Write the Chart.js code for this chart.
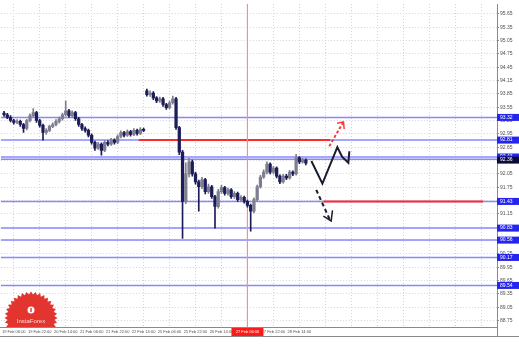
<!DOCTYPE html>
<html>
<head>
<meta charset="utf-8">
<script src="https://cdn.jsdelivr.net/npm/chart.js@4.4.1/dist/chart.umd.min.js"></script>
<style>
  html, body { margin: 0; padding: 0; background: #fff; }
  #wrap { width: 519px; height: 346px; }
</style>
</head>
<body>
<div id="wrap"><canvas id="fxChart" width="519" height="346"></canvas></div>
<script>
// 2-hour candles, index 0 = 19 Feb 06:00
const firstIndex = -3;

const opens = [93.42,93.38,93.32,93.25,93.21,93.23,93.16,93.07,93.25,93.36,93.43,93.25,93.14,92.98,
  93.03,93.12,93.16,93.23,93.29,93.38,93.47,93.36,93.43,93.29,
  93.16,93.07,93.03,92.92,92.76,92.63,92.72,92.58,92.76,92.72,
  92.81,92.76,92.89,92.98,92.92,93.00,92.94,93.03,92.96,93.05,
  93.92,93.83,93.87,93.76,93.69,93.74,93.61,93.54,93.65,93.74,
  93.09,92.54,91.43,92.05,92.32,92.05,91.87,91.76,91.92,91.65,
  91.76,91.54,91.32,91.65,91.74,91.61,91.69,91.54,91.61,91.47,
  91.52,91.43,91.34,91.21,91.47,91.76,91.98,92.09,92.27,92.09,
  92.18,92.00,91.87,92.00,91.96,92.09,92.05,92.41,92.32,92.36];
const highs = [93.46,93.41,93.36,93.28,93.27,93.26,93.19,93.28,93.40,93.52,93.46,93.28,93.17,93.07,
  93.15,93.20,93.27,93.33,93.42,93.69,93.50,93.47,93.46,93.32,
  93.19,93.11,93.06,92.95,92.79,92.76,92.75,92.80,92.80,92.85,
  92.84,92.93,93.02,93.01,93.04,93.03,93.07,93.06,93.09,93.08,
  93.96,93.92,93.90,93.79,93.78,93.77,93.64,93.69,93.80,93.77,
  93.12,92.58,92.30,92.40,92.36,92.09,91.91,91.97,91.95,91.82,
  91.79,91.57,91.70,91.79,91.77,91.73,91.72,91.65,91.64,91.56,
  91.55,91.46,91.37,91.51,91.80,92.02,92.14,92.32,92.30,92.22,
  92.21,92.03,92.04,92.04,92.13,92.12,92.49,92.44,92.40,92.39];
const lows = [93.34,93.29,93.22,93.17,93.18,93.12,92.98,93.04,93.22,93.33,93.21,93.10,92.81,92.94,
  93.00,93.09,93.13,93.19,93.26,93.35,93.32,93.33,93.25,93.12,
  93.03,92.99,92.88,92.72,92.58,92.60,92.47,92.55,92.68,92.69,
  92.72,92.73,92.86,92.88,92.89,92.90,92.91,92.92,92.93,93.00,
  93.80,93.79,93.72,93.65,93.66,93.57,93.50,93.51,93.62,93.05,
  92.48,90.60,91.38,91.98,92.00,91.82,91.21,91.72,91.60,91.61,
  91.50,90.83,91.28,91.61,91.57,91.57,91.50,91.50,91.43,91.43,
  91.39,91.30,90.76,91.17,91.44,91.73,91.95,92.05,92.05,92.05,
  91.96,91.83,91.84,91.92,91.93,92.01,92.02,92.28,92.29,92.25];
const closes = [93.38,93.32,93.25,93.21,93.23,93.16,93.07,93.25,93.36,93.43,93.25,93.14,92.98,93.03,
  93.12,93.16,93.23,93.29,93.38,93.47,93.36,93.43,93.29,93.16,
  93.07,93.03,92.92,92.76,92.63,92.72,92.58,92.76,92.72,92.81,
  92.76,92.89,92.98,92.92,93.00,92.94,93.03,92.96,93.05,93.03,
  93.83,93.87,93.76,93.69,93.74,93.61,93.54,93.65,93.74,93.09,
  92.54,91.43,92.05,92.32,92.05,91.87,91.76,91.92,91.65,91.76,
  91.54,91.32,91.65,91.74,91.61,91.69,91.54,91.61,91.47,91.52,
  91.43,91.34,91.21,91.47,91.76,91.98,92.09,92.27,92.09,92.18,
  92.00,91.87,92.00,91.96,92.09,92.05,92.41,92.32,92.36,92.29];

const timeTicks = [0,8,16,24,32,40,48,56,64,72,80,88,96,104,112,120,128,136,144];
const timeLabels = ['19 Feb 06:00','19 Feb 22:00','20 Feb 14:00','21 Feb 06:00','21 Feb 22:00',
  '22 Feb 14:00','25 Feb 06:00','25 Feb 22:00','26 Feb 14:00','27 Feb 06:00','27 Feb 22:00','28 Feb 14:00'];
const priceTicks = [95.65,95.35,95.05,94.75,94.45,94.15,93.85,93.55,93.25,92.95,92.65,92.35,
  92.05,91.75,91.45,91.15,90.85,90.55,90.25,89.95,89.65,89.35,89.05,88.75];

const blueLevels = [93.32,92.81,92.43,92.38,91.43,90.83,90.56,90.17,89.54];
const redLevels = [92.81,91.43];
const redFrom = [38.5,95.4];
const redTo = [97.5,144.6];
const markerIndex = 72;
const markerLabel = '27 Feb 06:00';
const bidPrice = 92.36;

const zigzag = [{x:91.7,y:92.34},{x:95.1,y:91.83},{x:99.7,y:92.65},{x:101.2,y:92.43},{x:103.1,y:92.30},{x:103.4,y:92.56}];
const upArrow = [{x:97.2,y:92.67},{x:101.5,y:93.21}];
const upHead = [{x:99.6,y:93.19},{x:101.6,y:93.22},{x:101.8,y:93.06}];
const downArrow = [{x:93.2,y:91.69},{x:97.5,y:91.00}];
const downHead = [{x:95.4,y:91.10},{x:97.8,y:90.99},{x:98.2,y:91.23}];

const yMin = 88.605, yMax = 95.872, xMin = -4, xMax = 148.9;

const candleX = opens.map((o, k) => firstIndex + k);
const candleColors = opens.map((o, k) => closes[k] >= o ? '#7e7e90' : '#1c1c58');

const datasets = [];
blueLevels.forEach(v => {
  datasets.push({type:'line', data:[{x:xMin,y:v},{x:xMax,y:v}], borderColor:'#8888ff', borderWidth:1.5, pointRadius:0, order:6});
});
redLevels.forEach((v, k) => {
  datasets.push({type:'line', data:[{x:redFrom[k],y:v},{x:redTo[k],y:v}], borderColor:'#ff2b2b', borderWidth:2, pointRadius:0, order:5});
});
datasets.push({type:'line', data:[{x:markerIndex,y:yMax},{x:markerIndex,y:yMin}], borderColor:'#ff8c8c', borderWidth:1, pointRadius:0, order:4});
datasets.push({type:'bar', data:candleX.map((xv,k)=>({x:xv, y:[lows[k], highs[k]]})), backgroundColor:candleColors, barThickness:1, grouped:false, order:3});
datasets.push({type:'bar', data:candleX.map((xv,k)=>({x:xv, y:[opens[k], closes[k]]})), backgroundColor:candleColors, barThickness:2.6, grouped:false, minBarLength:1, order:2});
datasets.push({type:'line', data:zigzag, borderColor:'#1b1b2e', borderWidth:2, pointRadius:0, order:1});
datasets.push({type:'line', data:upArrow, borderColor:'#ff3a3a', borderWidth:2, borderDash:[3,2], pointRadius:0, order:1});
datasets.push({type:'line', data:upHead, borderColor:'#ff3a3a', borderWidth:1.5, pointRadius:0, order:1});
datasets.push({type:'line', data:downArrow, borderColor:'#1b1b2e', borderWidth:2, borderDash:[4,3], pointRadius:0, order:1});
datasets.push({type:'line', data:downHead, borderColor:'#1b1b2e', borderWidth:1.5, pointRadius:0, order:1});

const overlay = {
  id: 'overlay',
  afterDraw(chart) {
    const {ctx, chartArea, scales} = chart;
    const ys = scales.y, xs = scales.x;
    ctx.save();

    // InstaForex seal, clipped to plot area
    ctx.save();
    ctx.beginPath();
    ctx.rect(chartArea.left, chartArea.top, chartArea.right - chartArea.left, chartArea.bottom - chartArea.top);
    ctx.clip();
    const cx = 31, cy = 318;
    ctx.beginPath();
    for (let k = 0; k < 72; k++) {
      const r = k % 2 ? 23.5 : 26.5;
      const a = k * Math.PI / 36;
      ctx.lineTo(cx + r * Math.cos(a), cy + r * Math.sin(a));
    }
    ctx.closePath();
    ctx.fillStyle = '#e2352f';
    ctx.fill();
    ctx.fillStyle = '#ffffff';
    ctx.beginPath();
    ctx.arc(cx, cy - 8, 3.5, 0, Math.PI * 2);
    ctx.fill();
    ctx.fillStyle = '#e2352f';
    ctx.fillRect(cx - 0.7, cy - 10, 1.4, 4);
    ctx.fillStyle = '#ffd8d8';
    ctx.font = '6px "Liberation Sans"';
    ctx.textAlign = 'center';
    ctx.textBaseline = 'middle';
    ctx.fillText('InstaForex', cx, cy + 3);
    ctx.restore();

    // price boxes on the right scale
    ctx.font = '5px "Liberation Sans"';
    ctx.textBaseline = 'middle';
    ctx.textAlign = 'left';
    blueLevels.forEach(v => {
      const py = ys.getPixelForValue(v);
      ctx.fillStyle = '#2424ee';
      ctx.fillRect(chartArea.right, py - 3.5, 22, 7);
      ctx.fillStyle = '#ffffff';
      ctx.fillText(v.toFixed(2), chartArea.right + 3, py);
    });
    const bp = ys.getPixelForValue(bidPrice);
    ctx.fillStyle = '#0b0b3a';
    ctx.fillRect(chartArea.right, bp - 3.5, 22, 7);
    ctx.fillStyle = '#ffffff';
    ctx.fillText(bidPrice.toFixed(2), chartArea.right + 3, bp);

    // time marker box
    const mx = xs.getPixelForValue(markerIndex);
    ctx.fillStyle = '#ff1a1a';
    ctx.fillRect(mx - 16, chartArea.bottom + 1, 32, 8);
    ctx.fillStyle = '#ffffff';
    ctx.font = '4px "Liberation Sans"';
    ctx.textAlign = 'center';
    ctx.fillText(markerLabel, mx, chartArea.bottom + 5);

    // frame below time scale
    ctx.strokeStyle = '#8a8a8a';
    ctx.lineWidth = 1;
    ctx.beginPath();
    ctx.moveTo(0, chartArea.bottom + 9.5);
    ctx.lineTo(519, chartArea.bottom + 9.5);
    ctx.moveTo(chartArea.right + 0.5, chartArea.bottom);
    ctx.lineTo(chartArea.right + 0.5, chartArea.bottom + 9.5);
    ctx.stroke();
    ctx.restore();
  }
};

new Chart(document.getElementById('fxChart').getContext('2d'), {
  type: 'bar',
  data: { datasets: datasets },
  plugins: [overlay],
  options: {
    responsive: false,
    animation: false,
    layout: { padding: { left: 0, right: 0, top: 0, bottom: 10 } },
    plugins: { legend: { display: false }, tooltip: { enabled: false } },
    scales: {
      x: {
        type: 'linear',
        min: xMin,
        max: xMax,
        offset: false,
        afterBuildTicks: s => { s.ticks = timeTicks.map(v => ({ value: v })); },
        afterFit: s => { s.height = 9; },
        ticks: {
          callback: (v, i) => timeLabels[i] || '',
          autoSkip: false,
          maxRotation: 0,
          padding: 2,
          color: '#505050',
          font: { family: 'Liberation Sans', size: 4 }
        },
        grid: { color: '#d4d4d4', drawTicks: false, offset: false },
        border: { color: '#8a8a8a', dash: [1, 2] }
      },
      y: {
        type: 'linear',
        position: 'right',
        min: yMin,
        max: yMax,
        afterBuildTicks: s => { s.ticks = priceTicks.map(v => ({ value: v })); },
        afterFit: s => { s.width = 22; },
        ticks: {
          callback: v => v.toFixed(2),
          padding: 1,
          color: '#505050',
          font: { family: 'Liberation Sans', size: 5 }
        },
        grid: { color: '#d4d4d4', tickLength: 2, tickColor: '#8a8a8a' },
        border: { color: '#8a8a8a', dash: [1, 2] }
      }
    }
  }
});
</script>
</body>
</html>
